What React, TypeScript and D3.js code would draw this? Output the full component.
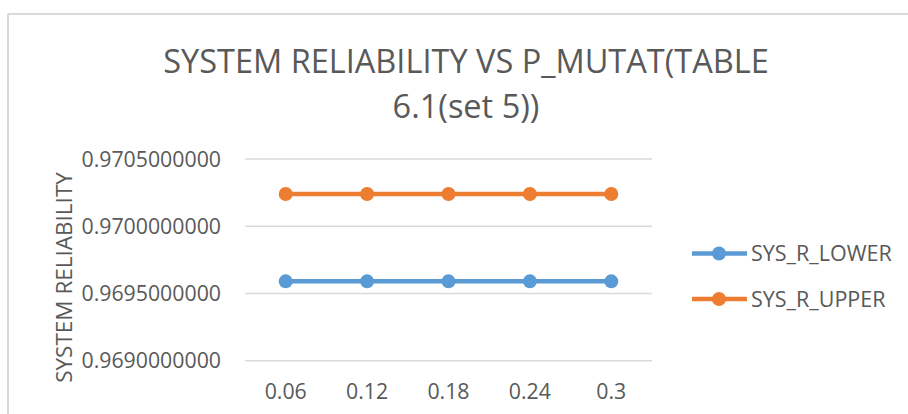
import React from "react";
import * as d3 from "d3";

const categories = ["0.06", "0.12", "0.18", "0.24", "0.3"];
const sysRLower = [0.96959, 0.96959, 0.96959, 0.96959, 0.96959];
const sysRUpper = [0.97024, 0.97024, 0.97024, 0.97024, 0.97024];
const yTicks = [0.969, 0.9695, 0.97, 0.9705];
const seriesNames = ["SYS_R_LOWER", "SYS_R_UPPER"];
const seriesColors = ["#5B9BD5", "#ED7D31"];
const titleLines = ["SYSTEM RELIABILITY VS P_MUTAT(TABLE", "6.1(set 5))"];
const yAxisTitle = "SYSTEM RELIABILITY";

const W = 908;
const H = 414;
const FONT = "'Open Sans', 'Noto Sans', sans-serif";
const TEXT = "#595959";

export default function App() {
  const x = d3.scalePoint<string>().domain(categories).range([245, 652]).padding(0.5);
  const y = d3.scaleLinear().domain([0.969, 0.9705]).range([360.7, 159]);
  const fmt = d3.format(".10f");
  const line = d3
    .line<number>()
    .x((_, i) => x(categories[i]) as number)
    .y((d) => y(d));
  const series = [sysRLower, sysRUpper];

  return (
    <svg
      width={W}
      height={H}
      style={{ position: "absolute", left: 0, top: 0, background: "#fff" }}
      fontFamily={FONT}
    >
      <rect x={0} y={0} width={W} height={H} fill="#fff" />
      <line x1={8} y1={14} x2={W} y2={14} stroke="#D9D9D9" strokeWidth={2} />
      <line x1={8} y1={14} x2={8} y2={H} stroke="#D9D9D9" strokeWidth={2} />

      {titleLines.map((t, i) => (
        <text
          key={t}
          x={466}
          y={73 + i * 45}
          textAnchor="middle"
          fontSize={32.5}
          fill={TEXT}
        >
          {t}
        </text>
      ))}

      {yTicks.map((t) => (
        <g key={t}>
          <line x1={245} x2={652} y1={y(t)} y2={y(t)} stroke="#D9D9D9" strokeWidth={1.5} />
          <text x={221} y={y(t)} dy="0.36em" textAnchor="end" fontSize={21.3} fill={TEXT}>
            {fmt(t)}
          </text>
        </g>
      ))}

      {categories.map((c) => (
        <text key={c} x={x(c)} y={399} textAnchor="middle" fontSize={21.3} fill={TEXT}>
          {c}
        </text>
      ))}

      <text
        transform={`translate(72,277.5) rotate(-90)`}
        textAnchor="middle"
        fontSize={22.5}
        fill={TEXT}
      >
        {yAxisTitle}
      </text>

      {series.map((s, si) => (
        <g key={si}>
          <path d={line(s) || ""} fill="none" stroke={seriesColors[si]} strokeWidth={4.5} strokeLinecap="round" />
          {s.map((v, i) => (
            <circle key={i} cx={x(categories[i])} cy={y(v)} r={7} fill={seriesColors[si]} />
          ))}
        </g>
      ))}

      {seriesNames.map((n, i) => {
        const ly = 253.5 + i * 45.5;
        return (
          <g key={n}>
            <line x1={692} x2={747} y1={ly} y2={ly} stroke={seriesColors[i]} strokeWidth={4.5} />
            <circle cx={719} cy={ly} r={7} fill={seriesColors[i]} />
            <text x={751} y={ly} dy="0.36em" fontSize={21.5} fill={TEXT}>
              {n}
            </text>
          </g>
        );
      })}
    </svg>
  );
}
